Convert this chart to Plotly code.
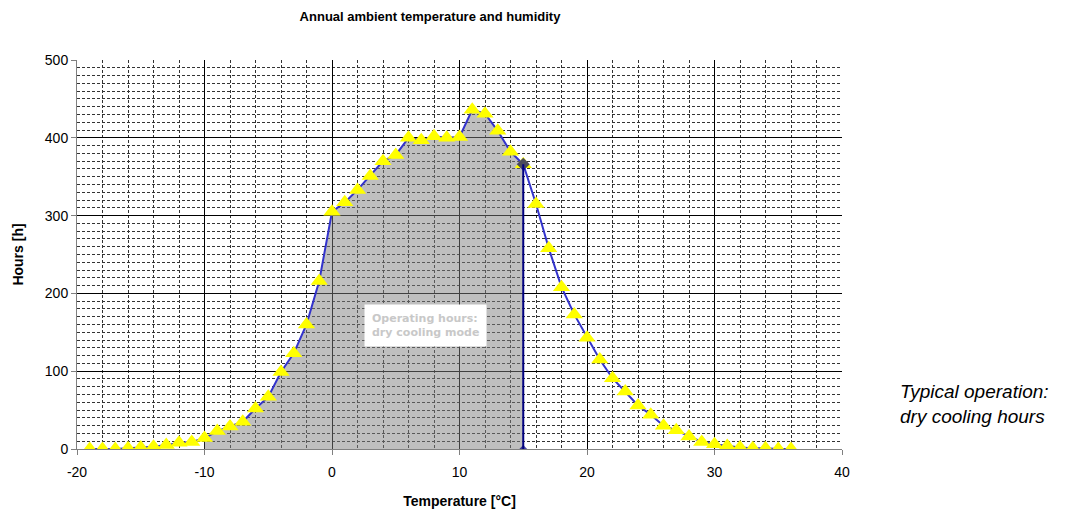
import plotly.graph_objects as go

# Data
temperatures = list(range(-19, 37))
hours = [0, 0, 0, 1, 2, 3, 5, 8, 9, 14,
         23, 29, 35, 52, 67, 99, 123, 160, 216, 305,
         317, 333, 351, 370, 378, 400, 397, 402, 400, 401,
         436, 431, 409, 382, 366, 315, 258, 208, 173, 143,
         115, 91, 74, 56, 44, 30, 24, 16, 9, 6,
         4, 2, 1, 1, 0, 0]
fill_start = -10
cut_temp = 15

x_ticks = [-20, -10, 0, 10, 20, 30, 40]
x_tick_labels = ["-20", "-10", "0", "10", "20", "30", "40"]
y_ticks = [0, 100, 200, 300, 400, 500]
y_tick_labels = ["0", "100", "200", "300", "400", "500"]

title_text = "Annual ambient temperature and humidity"
x_title = "Temperature [°C]"
y_title = "Hours [h]"
box_text = "Operating hours:<br>dry cooling mode"
side_text = "Typical operation:<br>dry cooling hours"

fill_x = [t for t in temperatures if fill_start <= t <= cut_temp]
fill_y = [h for t, h in zip(temperatures, hours) if fill_start <= t <= cut_temp]
cut_hours = hours[temperatures.index(cut_temp)]

W, H = 1078, 512
L, R, T, B = 77, 236, 60, 63

fig = go.Figure()

fig.add_trace(go.Scatter(
    x=fill_x, y=fill_y, mode="lines", fill="tozeroy",
    fillcolor="rgba(128,128,128,0.5)", line=dict(width=0),
    hoverinfo="skip", showlegend=False))

fig.add_trace(go.Scatter(
    x=temperatures, y=hours, mode="lines+markers",
    line=dict(color="#3333CC", width=2),
    marker=dict(symbol="triangle-up", size=15, color="#FFFF00",
                line=dict(width=0)),
    showlegend=False))

fig.add_trace(go.Scatter(
    x=[cut_temp, cut_temp], y=[0, cut_hours], mode="lines+markers",
    line=dict(color="#000080", width=2),
    marker=dict(symbol="diamond", size=[6, 10], color="#000080",
                line=dict(width=0)),
    showlegend=False))

fig.add_annotation(
    x=7.3, y=159, xref="x", yref="y", text=box_text, showarrow=False,
    font=dict(family="DejaVu Sans", size=11, color="#C8C8C8", weight="bold"),
    bgcolor="white", borderpad=7, align="left")

pw, ph = W - L - R, H - T - B
fig.add_annotation(
    x=(898 - L) / pw, y=(H - B - 404) / ph, xref="paper", yref="paper",
    text=side_text, showarrow=False,
    font=dict(family="Liberation Sans", size=19, color="black", style="italic"),
    align="left", xanchor="left", yanchor="middle")

fig.update_layout(
    width=W, height=H,
    margin=dict(l=L, r=R, t=T, b=B, autoexpand=False),
    paper_bgcolor="white", plot_bgcolor="white",
    font=dict(family="Liberation Sans", size=14, color="black"),
    title=dict(text=title_text, x=430 / W, xref="container", xanchor="center",
               y=1 - 16 / H, yanchor="middle", automargin=False,
               font=dict(size=13, weight="bold", color="black")),
    xaxis=dict(range=[-20, 40], tickvals=x_ticks, ticktext=x_tick_labels,
               automargin=False,
               showgrid=True, gridcolor="black", gridwidth=1,
               minor=dict(dtick=2, tick0=0, showgrid=True, gridcolor="#333333",
                          griddash="3px,2px", gridwidth=1),
               showline=True, linecolor="#808080", linewidth=1,
               ticks="outside", ticklen=5, tickcolor="#808080",
               ticklabelstandoff=5,
               zeroline=False,
               title=dict(text=x_title, font=dict(size=14, weight="bold"), standoff=17)),
    yaxis=dict(range=[0, 500], tickvals=y_ticks, ticktext=y_tick_labels,
               automargin=False,
               showgrid=True, gridcolor="black", gridwidth=1,
               minor=dict(dtick=10, tick0=0, showgrid=True, gridcolor="#333333",
                          griddash="3px,2px", gridwidth=1),
               showline=True, linecolor="#808080", linewidth=1,
               ticks="outside", ticklen=5, tickcolor="#808080",
               zeroline=False,
               title=dict(text=y_title, font=dict(size=14, weight="bold"), standoff=17)),
)

fig.write_html("out.html", config={"displayModeBar": False},
               post_script="document.body.style.margin='0';document.body.style.overflow='hidden';")
